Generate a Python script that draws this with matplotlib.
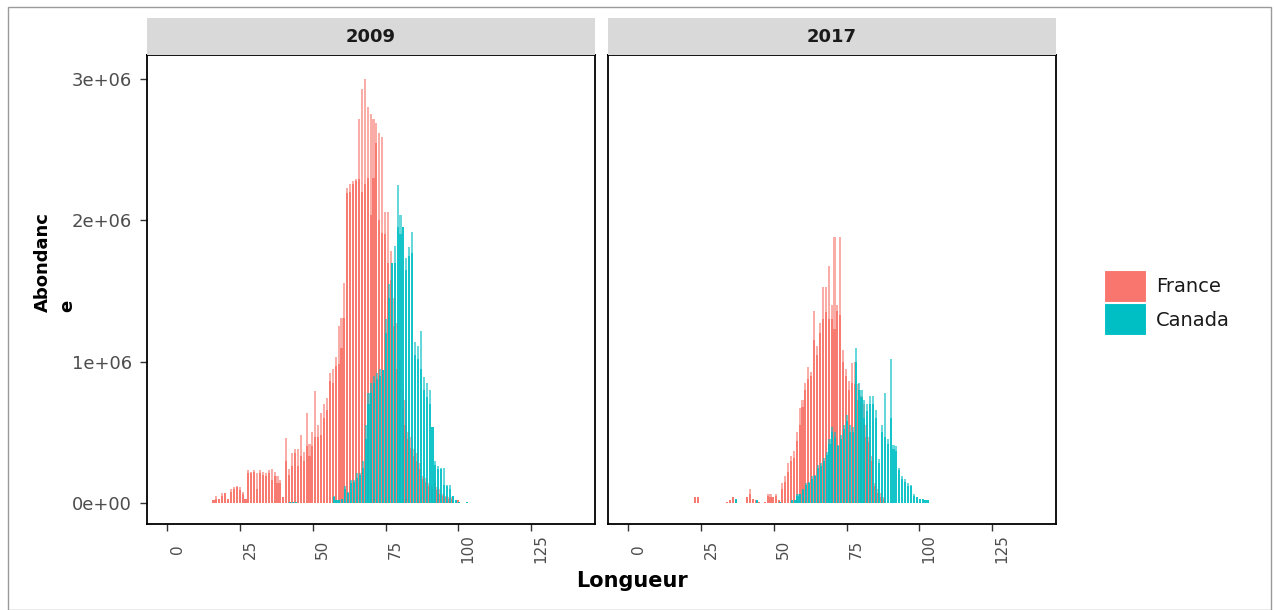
import matplotlib
matplotlib.use("Agg")
import matplotlib.pyplot as plt
import matplotlib.transforms as mtransforms
from matplotlib.patches import Rectangle
import numpy as np

plt.rcParams['font.family'] = ['DejaVu Sans']

# fish length classes (cm)
lengths = list(range(16, 105))

# abundance in millions; "hi" = full bar, "lo" = darker overlapping part
fr09_hi = [0.02, 0.05, 0.03, 0.07, 0.07, 0.03, 0.10, 0.11, 0.12, 0.11,
           0.08, 0.03, 0.23, 0.22, 0.23, 0.21, 0.23, 0.22, 0.21, 0.23,
           0.24, 0.22, 0.19, 0.16, 0.04, 0.46, 0.24, 0.35, 0.38, 0.38,
           0.48, 0.36, 0.64, 0.42, 0.50, 0.79, 0.55, 0.64, 0.70, 0.74,
           0.92, 0.95, 1.03, 1.25, 1.31, 1.56, 2.23, 2.26, 2.28, 2.29,
           2.72, 2.93, 3.00, 2.80, 2.75, 2.72, 2.69, 2.62, 2.59, 2.06,
           2.06, 1.78, 1.45, 1.27, 1.01, 0.80, 0.73, 0.50, 0.47, 0.38,
           0.35, 0.28, 0.19, 0.18, 0.14, 0.12, 0.16, 0.11, 0.10, 0.06,
           0.05, 0.04, 0.04, 0.00, 0.02, 0.00, 0.00, 0.00, 0.00]
fr09_lo = [0.02, 0.03, 0.03, 0.05, 0.07, 0.03, 0.08, 0.10, 0.11, 0.09,
           0.06, 0.03, 0.21, 0.21, 0.22, 0.10, 0.21, 0.20, 0.19, 0.21,
           0.16, 0.19, 0.14, 0.14, 0.04, 0.30, 0.20, 0.26, 0.35, 0.26,
           0.33, 0.30, 0.40, 0.33, 0.40, 0.47, 0.47, 0.48, 0.60, 0.66,
           0.86, 0.85, 0.97, 0.98, 1.10, 1.31, 2.19, 2.20, 2.26, 2.28,
           2.29, 2.20, 2.26, 2.30, 2.04, 2.30, 2.55, 2.00, 1.91, 1.90,
           1.70, 1.58, 1.25, 0.95, 0.80, 0.68, 0.55, 0.45, 0.39, 0.33,
           0.30, 0.24, 0.17, 0.15, 0.12, 0.10, 0.14, 0.09, 0.06, 0.05,
           0.04, 0.03, 0.03, 0.00, 0.02, 0.00, 0.00, 0.00, 0.00]
ca09_hi = [0, 0, 0, 0, 0, 0, 0, 0, 0, 0,
           0, 0, 0, 0, 0, 0, 0, 0, 0, 0,
           0, 0, 0, 0, 0, 0, 0.01, 0.01, 0.01, 0,
           0, 0, 0, 0, 0, 0, 0, 0, 0, 0,
           0, 0.05, 0.02, 0.02, 0.03, 0.12, 0.08, 0.16, 0.16, 0.21,
           0.21, 0.30, 0.55, 0.78, 0.85, 0.90, 0.92, 0.95, 0.94, 1.30,
           1.55, 1.70, 1.82, 2.25, 2.04, 1.95, 1.73, 1.81, 1.92, 1.14,
           1.11, 1.22, 0.89, 0.85, 0.80, 0.54, 0.30, 0.26, 0.25, 0.25,
           0.13, 0.13, 0.05, 0.02, 0.01, 0, 0, 0.01, 0]
ca09_lo = [0, 0, 0, 0, 0, 0, 0, 0, 0, 0,
           0, 0, 0, 0, 0, 0, 0, 0, 0, 0,
           0, 0, 0, 0, 0, 0, 0.01, 0.01, 0.01, 0,
           0, 0, 0, 0, 0, 0, 0, 0, 0, 0,
           0, 0.04, 0.02, 0.02, 0.03, 0.10, 0.07, 0.14, 0.15, 0.18,
           0.20, 0.25, 0.45, 0.70, 0.78, 0.85, 0.88, 0.90, 0.94, 1.20,
           1.45, 1.70, 1.70, 1.95, 1.90, 1.95, 1.65, 1.75, 1.77, 1.05,
           1.02, 0.95, 0.80, 0.75, 0.70, 0.54, 0.27, 0.24, 0.24, 0.13,
           0.12, 0.10, 0.05, 0.02, 0.01, 0, 0, 0.01, 0]

fr17_hi = [0, 0, 0, 0, 0, 0, 0, 0.04, 0.04, 0,
           0, 0, 0, 0, 0, 0, 0, 0, 0.01, 0.02,
           0.04, 0.02, 0, 0, 0, 0.04, 0.10, 0.03, 0.02, 0.01,
           0, 0.01, 0.06, 0.06, 0.04, 0.06, 0.02, 0.14, 0.19, 0.28,
           0.33, 0.37, 0.50, 0.67, 0.73, 0.85, 0.96, 0.93, 1.36, 1.11,
           1.27, 1.53, 1.53, 1.68, 1.40, 1.88, 1.40, 1.88, 1.08, 0.95,
           0.86, 0.99, 1.00, 0.84, 0.76, 0.70, 0.55, 0.47, 0.33, 0.14,
           0.10, 0.07, 0.04, 0, 0, 0, 0, 0, 0, 0,
           0, 0, 0, 0, 0, 0, 0, 0, 0]
fr17_lo = [0, 0, 0, 0, 0, 0, 0, 0.04, 0.04, 0,
           0, 0, 0, 0, 0, 0, 0, 0, 0.01, 0.02,
           0.04, 0.02, 0, 0, 0, 0.04, 0.06, 0.03, 0.02, 0.01,
           0, 0.01, 0.05, 0.04, 0.04, 0.05, 0.02, 0.10, 0.15, 0.22,
           0.30, 0.32, 0.44, 0.55, 0.68, 0.80, 0.88, 0.90, 1.15, 1.05,
           1.20, 1.30, 1.35, 1.30, 1.30, 1.23, 1.36, 1.33, 1.00, 0.90,
           0.80, 0.85, 0.84, 0.73, 0.70, 0.55, 0.47, 0.43, 0.30, 0.12,
           0.07, 0.04, 0.03, 0, 0, 0, 0, 0, 0, 0,
           0, 0, 0, 0, 0, 0, 0, 0, 0]
ca17_hi = [0, 0, 0, 0, 0, 0, 0, 0, 0, 0,
           0, 0, 0, 0, 0, 0, 0, 0, 0, 0,
           0, 0.03, 0, 0, 0, 0, 0, 0, 0.02, 0,
           0, 0, 0, 0, 0, 0, 0.01, 0, 0, 0,
           0.02, 0.02, 0.06, 0.06, 0.10, 0.14, 0.15, 0.19, 0.20, 0.27,
           0.28, 0.32, 0.36, 0.45, 0.54, 0.50, 0.41, 0.48, 0.55, 0.62,
           0.55, 0.54, 1.10, 0.85, 0.80, 0.73, 0.70, 0.76, 0.76, 0.66,
           0.31, 0.55, 0.78, 0.45, 1.02, 0.41, 0.40, 0.25, 0.19, 0.17,
           0.14, 0.13, 0.06, 0.04, 0.03, 0.03, 0.02, 0.02, 0]
ca17_lo = [0, 0, 0, 0, 0, 0, 0, 0, 0, 0,
           0, 0, 0, 0, 0, 0, 0, 0, 0, 0,
           0, 0.03, 0, 0, 0, 0, 0, 0, 0.02, 0,
           0, 0, 0, 0, 0, 0, 0.01, 0, 0, 0,
           0.02, 0.02, 0.05, 0.06, 0.09, 0.13, 0.14, 0.17, 0.19, 0.25,
           0.26, 0.30, 0.34, 0.42, 0.50, 0.47, 0.40, 0.45, 0.52, 0.58,
           0.50, 0.50, 1.00, 0.80, 0.75, 0.60, 0.65, 0.70, 0.70, 0.60,
           0.28, 0.50, 0.47, 0.42, 0.60, 0.38, 0.37, 0.23, 0.17, 0.15,
           0.12, 0.12, 0.05, 0.04, 0.03, 0.03, 0.02, 0.02, 0]

years = ["2009", "2017"]
countries = ["France", "Canada"]
colors = {"France": "#F8766D", "Canada": "#00BFC4"}
shift = {"France": -0.15, "Canada": 0.15}
alphas = {"France": (0.6, 0.9), "Canada": (0.6, 0.8)}
xticks = [0, 25, 50, 75, 100, 125]
yticks = [0, 1e6, 2e6, 3e6]
ytick_labels = ["0e+00", "1e+06", "2e+06", "3e+06"]

panels = {
    "2009": {"France": (fr09_hi, fr09_lo), "Canada": (ca09_hi, ca09_lo)},
    "2017": {"France": (fr17_hi, fr17_lo), "Canada": (ca17_hi, ca17_lo)},
}

W, H = 1274, 610
fig = plt.figure(figsize=(W / 100, H / 100), dpi=100)

def fx(px):
    return px / W

def fy(py):
    return 1 - py / H

panel_lefts = [147, 608]
panel_w = 448
p_top, p_bot = 55, 524
strip_top = 18

gray_txt = "#4D4D4D"
x = np.array(lengths)

for i, yr in enumerate(years):
    left = panel_lefts[i]
    ax = fig.add_axes([fx(left), fy(p_bot), fx(panel_w), (p_bot - p_top) / H])
    for c in countries:
        hi, lo = panels[yr][c]
        a_hi, a_lo = alphas[c]
        ax.bar(x + shift[c], np.array(hi) * 1e6, width=0.72, color=colors[c],
               alpha=a_hi, linewidth=0)
        ax.bar(x + shift[c], np.array(lo) * 1e6, width=0.72, color=colors[c],
               alpha=a_lo, linewidth=0)
    ax.set_xlim(-7, 147)
    ax.set_ylim(-0.149e6, 3.17e6)
    ax.set_xticks(xticks)
    ax.set_xticklabels([])
    if i == 0:
        ax.set_yticks(yticks)
        ax.set_yticklabels(ytick_labels, fontsize=13, color=gray_txt)
    else:
        ax.set_yticks([])
    ax.tick_params(axis="both", length=5, width=1, color="#333333", pad=6)
    for s in ax.spines.values():
        s.set_linewidth(1.3)
        s.set_color("black")

    # rotated x tick labels, shifted right like the reference
    trans = mtransforms.blended_transform_factory(ax.transData, ax.transAxes) + \
        mtransforms.ScaledTranslation(10 / 100, 0, fig.dpi_scale_trans)
    for t in xticks:
        ax.text(t, -25 / (p_bot - p_top), str(t), transform=trans, rotation=90,
                ha="center", va="center", fontsize=11, color=gray_txt)

    # facet strip
    sax = fig.add_axes([fx(left), fy(p_top), fx(panel_w), (p_top - strip_top) / H])
    sax.set_facecolor("#D9D9D9")
    sax.set_xticks([])
    sax.set_yticks([])
    for s in sax.spines.values():
        s.set_visible(False)
    sax.text(0.5, 0.5, yr, ha="center", va="center", fontsize=13,
             fontweight="bold", color="#1A1A1A", transform=sax.transAxes)

# axis titles
fig.text(fx(632), fy(581), "Longueur", ha="center", va="center",
         fontsize=15, fontweight="bold")
fig.text(fx(55), fy(262), "Abondanc\ne", rotation=90, ha="center", va="center",
         multialignment="left", fontsize=13, fontweight="bold", linespacing=1.45)

# legend
for j, c in enumerate(countries):
    top = 270 + j * 33
    fig.patches.append(Rectangle((fx(1104), fy(top + 32)), fx(42), 32 / H,
                                 transform=fig.transFigure, facecolor=colors[c],
                                 edgecolor="white", linewidth=0.8))
    fig.text(fx(1156), fy(top + 17), c, ha="left", va="center", fontsize=14,
             color="#1A1A1A")

# thin frame around the picture
fig.patches.append(Rectangle((fx(8), 0), fx(1263), fy(7), transform=fig.transFigure,
                             facecolor="none", edgecolor="#9A9A9A", linewidth=1))

fig.savefig("out.png", dpi=100)
